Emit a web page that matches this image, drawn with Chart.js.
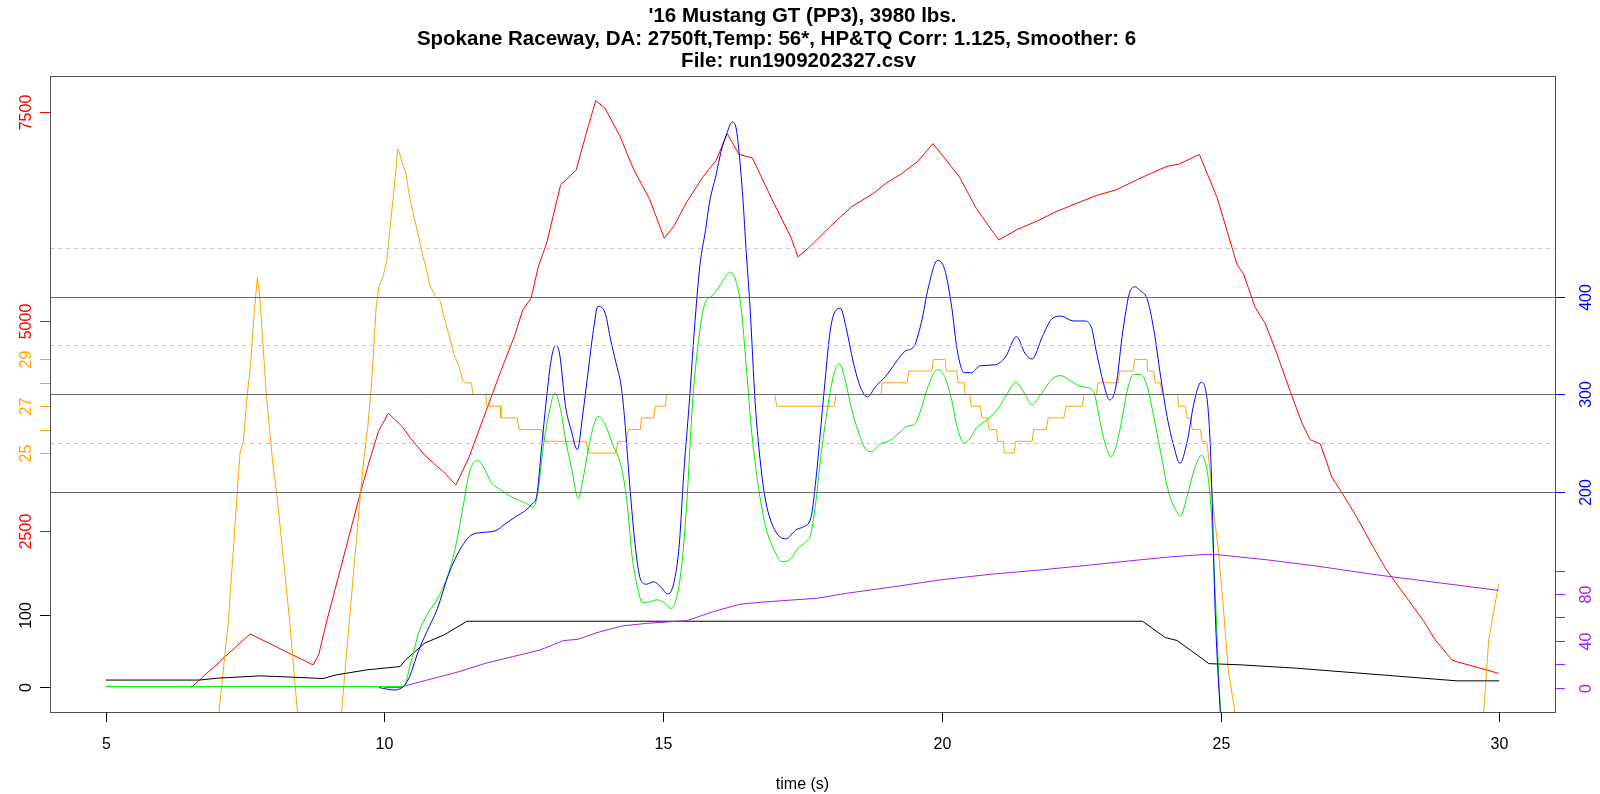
<!DOCTYPE html>
<html>
<head>
<meta charset="utf-8">
<title>Dyno run</title>
<script src="https://cdn.jsdelivr.net/npm/chart.js@4.4.1/dist/chart.umd.min.js"></script>
<style>
    html, body { margin: 0; padding: 0; background: #fff; }
    canvas { display: block; }
</style>
</head>
<body>
<canvas id="dynoChart" width="1600" height="794"></canvas>
<script>
var titleLines = [
    "'16 Mustang GT (PP3), 3980 lbs.",
    "Spokane Raceway, DA: 2750ft,Temp: 56*, HP&TQ Corr: 1.125, Smoother: 6",
    "File: run1909202327.csv"
];
var xTitle = 'time (s)';

var timeTicks = [5, 10, 15, 20, 25, 30];
var rpmTicks = [2500, 5000, 7500];
var sparkTicks = [25, 26, 27, 28, 29];
var sparkLabels = ['25', '', '27', '', '29'];
var throttleTicks = [0, 100];
var powerTicks = [200, 300, 400];
var powerGridSolid = [200, 300, 400];
var powerGridDashed = [250, 350, 450];
var mphTicks = [0, 20, 40, 60, 80, 100];
var mphLabels = ['0', '', '40', '', '80', ''];

// red - engine rpm
var rpmTime = [6.53, 7.59, 8.72, 8.82, 8.97, 9.55, 9.70, 9.89, 10.07, 10.32,
    10.47, 10.72, 10.88, 11.06, 11.28, 11.34, 11.52, 11.83, 12.14, 12.33,
    12.48, 12.63, 12.76, 12.91, 13.16, 13.44, 13.62, 13.79, 13.95, 14.22,
    14.47, 14.76, 15.02, 15.19, 15.43, 15.72, 15.95, 16.15, 16.36, 16.60,
    16.97, 17.29, 17.42, 17.61, 18.00, 18.38, 18.77, 18.99, 19.28, 19.57,
    19.84, 20.31, 20.62, 21.02, 21.36, 21.71, 22.03, 22.42, 22.80, 23.12,
    23.55, 24.04, 24.25, 24.62, 24.94, 25.30, 25.41, 25.62, 25.80, 26.01,
    26.25, 26.46, 26.61, 26.79, 27.00, 27.15, 27.45, 27.74, 27.98, 28.34,
    28.64, 28.85, 29.15, 29.24, 29.99];
var rpmValue = [624, 1266, 895, 1015, 1433, 2906, 3265, 3683, 3903, 3743,
    3604, 3405, 3305, 3205, 3046, 3126, 3384, 3942, 4500, 4818,
    5137, 5277, 5655, 5935, 6631, 6810, 7249, 7638, 7555, 7224,
    6819, 6457, 5995, 6137, 6435, 6734, 6925, 7245, 6998, 6955,
    6435, 6009, 5773, 5880, 6137, 6371, 6529, 6648, 6768, 6913,
    7126, 6734, 6349, 5974, 6102, 6200, 6307, 6414, 6512, 6571,
    6710, 6855, 6880, 6996, 6478, 5673, 5572, 5170, 4979, 4616,
    4165, 3787, 3586, 3536, 3133, 2983, 2655, 2303, 2027, 1699,
    1423, 1196, 955, 934, 795];

// orange - spark advance (goes off the bottom of the plot)
var sparkTime = [6.6, 7.03, 7.20, 7.35, 7.41, 7.47, 7.54, 7.60, 7.66, 7.72,
    7.76, 7.82, 7.88, 7.94, 8.00, 8.08, 8.30, 8.44, 8.8,
    9.23, 9.37, 9.56, 9.62, 9.70, 9.76, 9.81, 9.85, 9.90, 9.98,
    10.04, 10.10, 10.17, 10.24, 10.26, 10.32, 10.38, 10.44, 10.50, 10.57,
    10.63, 10.69, 10.75, 10.81, 10.91, 11.00, 11.06, 11.15, 11.25, 11.34,
    11.40, 11.45, 11.56,
    11.59, 11.82, 11.83, 12.08, 12.09, 12.38, 12.42, 12.82, 12.88, 13.62,
    13.65, 14.15, 14.19, 14.33, 14.38, 14.59, 14.61, 14.83, 14.86, 15.04,
    15.06, 17.00, 17.04, 18.07, 18.10, 18.91, 18.93, 19.38, 19.41, 19.82,
    19.85, 20.06, 20.08, 20.27, 20.29, 20.40, 20.42, 20.50, 20.53, 20.69,
    20.72, 20.82, 20.85, 20.98, 21.00, 21.10, 21.12, 21.30, 21.32, 21.62,
    21.65, 21.87, 21.91, 22.19, 22.23, 22.52, 22.55, 22.77, 22.80, 23.16,
    23.19, 23.43, 23.46, 23.68, 23.69, 23.80, 23.83, 23.92, 23.95, 24.23,
    24.25, 24.37, 24.40, 24.47, 24.49, 24.64, 24.67, 24.73,
    24.76, 24.82, 24.89, 24.96, 25.05, 25.14, 25.26, 25.5, 29.5, 29.72,
    29.81, 29.99];
var sparkValue = [4, 13.9, 17.8, 23.0, 25.0, 25.5, 27.5, 28.8, 30.9, 32.5,
    31.8, 29.7, 27.5, 26.0, 24.5, 23.0, 17.8, 13.9, 5,
    13.9, 17.8, 23.0, 24.5, 26.1, 27.7, 29.5, 31.2, 32.1, 32.6,
    33.2, 34.6, 36.2, 38.0, 37.9, 37.4, 37.0, 36.1, 35.4, 34.7,
    34.1, 33.4, 32.9, 32.2, 31.7, 31.5, 30.9, 30.1, 29.2, 28.7,
    28.1, 28.0, 28.0,
    27.5, 27.5, 27.0, 27.0, 26.5, 26.5, 26.0, 26.0, 25.5, 25.5,
    25.0, 25.0, 25.5, 25.5, 26.0, 26.0, 26.5, 26.5, 27.0, 27.0,
    27.5, 27.5, 27.0, 27.0, 27.5, 27.5, 28.0, 28.0, 28.5, 28.5,
    29.0, 29.0, 28.5, 28.5, 28.0, 28.0, 27.5, 27.5, 27.0, 27.0,
    26.5, 26.5, 26.0, 26.0, 25.5, 25.5, 25.0, 25.0, 25.5, 25.5,
    26.0, 26.0, 26.5, 26.5, 27.0, 27.0, 27.5, 27.5, 28.0, 28.0,
    28.5, 28.5, 29.0, 29.0, 28.5, 28.5, 28.0, 28.0, 27.5, 27.5,
    27.0, 27.0, 26.5, 26.5, 26.0, 26.0, 25.5, 25.5,
    25.4, 24.0, 22.2, 20.9, 18.4, 15.7, 13.9, 6, 6, 13.9,
    17.0, 19.4];

// black - throttle %
var throttleTime = [5.00, 6.68, 7.02, 7.57, 7.77, 8.05, 8.90, 9.14, 9.69, 10.28,
    10.38, 10.55, 10.72, 11.00, 11.07, 11.48, 23.60, 24.01, 24.22, 24.46,
    24.79, 25.35, 26.37, 29.24, 30.00];
var throttleValue = [10, 10, 12.7, 14.9, 15.8, 14.9, 12.1, 17.2, 24.1, 28.6,
    37.8, 49.2, 60.8, 69.9, 72.2, 91, 91, 68.5, 64.5, 51.2,
    32.6, 31.0, 26.3, 8.9, 8.9];

// blue - horsepower
var hpTime = [9.90, 10.17, 10.34, 10.45, 10.60, 10.75, 10.95, 11.15, 11.35, 11.55,
    11.75, 12.00, 12.17, 12.35, 12.54, 12.66, 12.73, 12.82, 12.91, 12.99,
    13.07, 13.14, 13.25, 13.35, 13.46, 13.56, 13.65, 13.75, 13.83, 13.96,
    14.06, 14.15, 14.25, 14.31, 14.41, 14.51, 14.60, 14.70, 14.83, 14.96,
    15.08, 15.19, 15.29, 15.37, 15.47, 15.56, 15.66, 15.76, 15.83, 15.95,
    16.04, 16.14, 16.24, 16.30, 16.36, 16.43, 16.49, 16.56, 16.65, 16.75,
    16.84, 17.00, 17.20, 17.39, 17.52, 17.65, 17.74, 17.87, 18.00, 18.10,
    18.18, 18.29, 18.41, 18.54, 18.67, 18.80, 18.99, 19.18, 19.34, 19.50,
    19.63, 19.76, 19.92, 20.05, 20.18, 20.27, 20.40, 20.53, 20.68, 20.95,
    21.14, 21.34, 21.49, 21.62, 21.80, 21.97, 22.13, 22.36, 22.55, 22.68,
    22.77, 22.90, 23.01, 23.12, 23.25, 23.38, 23.47, 23.56, 23.68, 23.80,
    23.92, 24.04, 24.16, 24.27, 24.40, 24.52, 24.65, 24.76, 24.82, 24.86,
    24.90, 24.95, 25.00];
var hpValue = [-1, -3.5, 0, 10, 35, 55, 80, 115, 140, 155,
    158, 160, 167, 174, 181, 188, 195, 246, 297, 335,
    350, 342, 287, 263, 243, 280, 321, 366, 390, 383,
    355, 333, 307, 274, 200, 139, 109, 105, 107.5, 102,
    95, 106, 146, 219, 292, 366, 432, 468, 496, 525,
    549, 567, 579, 575, 549, 501, 446, 388, 292, 227,
    190, 161, 151.5, 161, 164, 173, 212, 292, 366, 386,
    388, 366, 333, 307, 297, 307, 318, 333, 344, 349,
    373, 410, 437, 428, 388, 347, 322, 322, 329, 330,
    338, 359, 342, 336, 358.5, 377, 380, 375, 375, 369,
    344, 311, 294, 307, 366, 406, 410, 406, 398, 367,
    320, 277, 247, 229, 251, 290, 312, 294, 242, 169,
    83, 18, -30];

// green - torque
var tqTime = [5.00, 10.34, 10.48, 10.62, 10.76, 10.98, 11.16, 11.30, 11.43, 11.52,
    11.62, 11.68, 11.77, 11.92, 12.08, 12.26, 12.54, 12.66, 12.74, 12.85,
    12.94, 13.06, 13.16, 13.25, 13.35, 13.48, 13.56, 13.64, 13.74, 13.83,
    13.96, 14.09, 14.25, 14.35, 14.44, 14.54, 14.63, 14.76, 14.89, 15.02,
    15.15, 15.24, 15.34, 15.43, 15.53, 15.66, 15.75, 15.88, 15.98, 16.08,
    16.20, 16.30, 16.40, 16.49, 16.59, 16.72, 16.84, 17.00, 17.13, 17.29,
    17.42, 17.55, 17.65, 17.74, 17.84, 17.97, 18.07, 18.16, 18.25, 18.38,
    18.51, 18.64, 18.74, 18.90, 19.06, 19.25, 19.38, 19.51, 19.63, 19.76,
    19.92, 20.05, 20.18, 20.27, 20.40, 20.50, 20.62, 20.82, 21.01, 21.17,
    21.33, 21.49, 21.62, 21.78, 21.97, 22.13, 22.32, 22.48, 22.65, 22.74,
    22.83, 22.93, 23.03, 23.12, 23.22, 23.34, 23.44, 23.56, 23.68, 23.80,
    23.92, 24.07, 24.19, 24.28, 24.40, 24.52, 24.65, 24.76, 24.83, 24.88,
    24.93, 24.98, 25.02];
var tqValue = [0, 0, 26, 56, 73, 93, 118, 150, 191, 219,
    231, 232, 226, 209, 202, 195, 188, 184, 195, 246,
    277, 301, 284, 253, 226, 193, 212, 238, 265, 277,
    269, 249, 225, 190, 135, 102, 86, 87, 89, 86,
    80, 91, 128, 194, 293, 366, 393, 401, 408, 417,
    425, 417, 388, 329, 260, 201, 164, 139, 128, 131,
    142, 148, 157, 190, 241, 293, 322, 331, 318, 285,
    260, 243, 241, 249, 252, 261, 267, 269, 285, 309,
    325, 318, 293, 267, 250, 254, 265, 274, 285, 300,
    312, 300, 289, 300, 315, 319, 313, 308, 306, 300,
    274, 249, 236, 245, 271, 307, 320, 320, 309, 277,
    242, 199, 182, 175, 195, 221, 237, 221, 182, 126,
    61, -4, -40];

// purple - speed mph
var mphTime = [10.00, 10.30, 10.38, 10.65, 11.00, 11.34, 11.82, 12.30, 12.79, 13.21,
    13.48, 13.81, 14.26, 14.71, 15.43, 15.90, 16.38, 16.74, 17.76, 18.30,
    19.07, 19.97, 20.87, 21.77, 22.70, 23.56, 24.10, 24.76, 24.94, 25.83,
    26.73, 27.74, 28.94, 29.99];
var mphValue = [0, 0, 1.7, 5.1, 9.4, 13.7, 20.9, 26.5, 32.2, 40.2,
    41.4, 47.0, 52.7, 55.0, 57.3, 65.0, 71.3, 73.0, 76.4, 80.7,
    85.8, 92.1, 96.9, 100.6, 105.0, 109.3, 111.8, 114.0, 113.7, 109.3,
    103.9, 96.8, 89.5, 83.1];

var FONT = '"Liberation Sans", Arial, Helvetica, sans-serif';

function points(xs, ys) {
    return xs.map(function (t, i) { return { x: t, y: ys[i] }; });
}

function line(label, xs, ys, color, axis, order, smooth) {
    return {
        label: label,
        data: points(xs, ys),
        yAxisID: axis,
        borderColor: color,
        borderWidth: 1,
        pointRadius: 0,
        fill: false,
        order: order,
        cubicInterpolationMode: smooth ? 'monotone' : 'default',
        tension: 0
    };
}

// ticks + rotated labels on the left/right frame edge
function sideAxis(ctx, chart, scaleId, values, labels, color, side) {
    var s = chart.scales[scaleId];
    var a = chart.chartArea;
    var x0 = side === 'left' ? a.left : a.right;
    ctx.save();
    ctx.strokeStyle = color;
    ctx.fillStyle = color;
    ctx.lineWidth = 1;
    ctx.font = '16px ' + FONT;
    ctx.textAlign = 'center';
    ctx.textBaseline = 'alphabetic';
    values.forEach(function (v, i) {
        var y = Math.round(s.getPixelForValue(v)) + 0.5;
        ctx.beginPath();
        ctx.moveTo(x0, y);
        ctx.lineTo(side === 'left' ? x0 - 10 : x0 + 10, y);
        ctx.stroke();
        if (labels[i]) {
            ctx.save();
            ctx.translate(side === 'left' ? x0 - 19.5 : x0 + 36, y);
            ctx.rotate(-Math.PI / 2);
            ctx.fillText(labels[i], 0, 0);
            ctx.restore();
        }
    });
    ctx.restore();
}

var decorations = {
    id: 'decorations',
    afterDatasetsDraw: function (chart) {
        var ctx = chart.ctx, a = chart.chartArea, s = chart.scales.yPower;
        ctx.save();
        ctx.lineWidth = 1;
        ctx.strokeStyle = '#c8c8c8';
        ctx.setLineDash([4, 4]);
        powerGridDashed.forEach(function (v) {
            var y = Math.round(s.getPixelForValue(v)) + 0.5;
            ctx.beginPath();
            ctx.moveTo(a.left, y);
            ctx.lineTo(a.right, y);
            ctx.stroke();
        });
        ctx.setLineDash([]);
        ctx.strokeStyle = '#6a6a6a';
        powerGridSolid.forEach(function (v) {
            var y = Math.round(s.getPixelForValue(v)) + 0.5;
            ctx.beginPath();
            ctx.moveTo(a.left, y);
            ctx.lineTo(a.right, y);
            ctx.stroke();
        });
        ctx.restore();
    },
    afterDraw: function (chart) {
        var ctx = chart.ctx, a = chart.chartArea;
        var xs = chart.scales.x;
        var cx = (a.left + a.right) / 2;

        ctx.save();
        // frame
        ctx.strokeStyle = '#505050';
        ctx.lineWidth = 1;
        ctx.strokeRect(a.left + 0.5, a.top + 0.5, a.right - a.left, a.bottom - a.top);

        // x axis
        ctx.strokeStyle = '#000';
        ctx.fillStyle = '#000';
        ctx.font = '16px ' + FONT;
        ctx.textAlign = 'center';
        ctx.textBaseline = 'alphabetic';
        timeTicks.forEach(function (t) {
            var x = Math.round(xs.getPixelForValue(t)) + 0.5;
            ctx.beginPath();
            ctx.moveTo(x, a.bottom);
            ctx.lineTo(x, a.bottom + 10);
            ctx.stroke();
            ctx.fillText(String(t), x, 748.5);
        });
        ctx.fillText(xTitle, cx, 789);

        // title, second line sits a little left in the original
        ctx.font = 'bold 20.5px ' + FONT;
        var baselines = [22, 44.5, 67];
        var shifts = [0, -26, -4];
        titleLines.forEach(function (txt, i) {
            ctx.fillText(txt, cx + shifts[i], baselines[i]);
        });
        ctx.restore();

        sideAxis(ctx, chart, 'yRpm', rpmTicks, rpmTicks.map(String), '#ff0000', 'left');
        sideAxis(ctx, chart, 'ySpark', sparkTicks, sparkLabels, '#ffa500', 'left');
        sideAxis(ctx, chart, 'yThrottle', throttleTicks, throttleTicks.map(String), '#000000', 'left');
        sideAxis(ctx, chart, 'yPower', powerTicks, powerTicks.map(String), '#0000ff', 'right');
        sideAxis(ctx, chart, 'yMph', mphTicks, mphLabels, '#a020f0', 'right');
    }
};

var ctx = document.getElementById('dynoChart').getContext('2d');

// hidden scales; ranges chosen so each series lands where the picture has it
new Chart(ctx, {
    type: 'line',
    data: {
        datasets: [
            line('HP', hpTime, hpValue, '#0000ff', 'yPower', 1, true),
            line('TQ', tqTime, tqValue, '#00ee00', 'yPower', 2, true),
            line('MPH', mphTime, mphValue, '#a020f0', 'yMph', 3, false),
            line('Throttle', throttleTime, throttleValue, '#000000', 'yThrottle', 4, false),
            line('Spark', sparkTime, sparkValue, '#ffa500', 'ySpark', 5, false),
            line('RPM', rpmTime, rpmValue, '#ff0000', 'yRpm', 6, false)
        ]
    },
    options: {
        responsive: false,
        devicePixelRatio: 1,
        animation: false,
        layout: { padding: { left: 50, right: 45, top: 76, bottom: 82 } },
        plugins: {
            legend: { display: false },
            title: { display: false },
            tooltip: { enabled: false }
        },
        scales: {
            x: { type: 'linear', min: 4, max: 31, display: false },
            yRpm: { type: 'linear', min: 333, max: 7934, display: false },
            ySpark: { type: 'linear', min: 13.932, max: 41.111, display: false },
            yThrottle: { type: 'linear', min: -34, max: 842, display: false },
            yPower: { type: 'linear', min: -26.1, max: 626.3, display: false },
            yMph: { type: 'linear', min: -20.8, max: 522.8, display: false }
        }
    },
    plugins: [decorations]
});
</script>
</body>
</html>
